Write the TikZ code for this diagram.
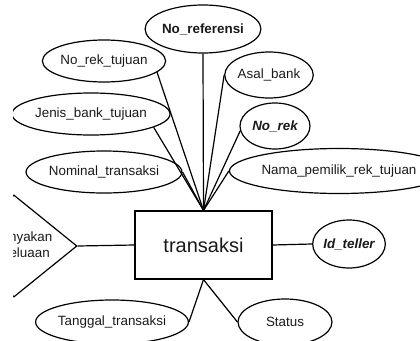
\documentclass[tikz,border=0pt]{standalone}
\usepackage{fontspec}
\setmainfont{Liberation Sans}
\usetikzlibrary{shapes.geometric}
\begin{document}
\begin{tikzpicture}[x=1pt,y=-1pt,
  attr/.style={draw=black, ellipse, inner sep=0pt, line width=1.2pt,
    font=\fontsize{13.4}{16}\selectfont, text=black!90},
  keyattr/.style={attr, font=\fontsize{13.4}{16}\selectfont\bfseries},
  keyital/.style={attr, font=\fontsize{13.4}{16}\selectfont\bfseries\itshape},
  entity/.style={draw=black, rectangle, line width=1.2pt, inner sep=0pt,
    font=\fontsize{20}{24}\selectfont, text=black!90},
  rel/.style={draw=black, diamond, line width=1.2pt, inner sep=0pt},
  conn/.style={draw=black, line width=1.2pt}]
\useasboundingbox (0,0) rectangle (420,340);
\begin{scope}
\clip (13,0) rectangle (420,340);
% entity
\node[entity, minimum width=137pt, minimum height=68pt] (tr) at (203.5,245) {transaksi};
% relationship (partly outside the view)
\node[rel, minimum width=126pt, minimum height=102pt] (dia) at (14,246) {};
\node[font=\fontsize{13.4}{16}\selectfont, text=black!90, align=center, inner sep=0pt] (diat) at (dia.center) {Menanyakan\\Pengeluaan};
% attributes
\node[keyattr, minimum width=97pt, minimum height=48pt] (nref) at (203,29) {No\_referensi};
\node[attr, minimum width=110pt, minimum height=42pt] (nrt) at (104,61) {No\_rek\_tujuan};
\node[attr, minimum width=136pt, minimum height=42pt] (jbt) at (91,114) {Jenis\_bank\_tujuan};
\node[attr, minimum width=126pt, minimum height=42pt] (nom) at (104,172) {Nominal\_transaksi};
\node[attr, minimum width=86pt, minimum height=46pt] (asal) at (269,75) {Asal\_bank};
\node[keyital, minimum width=70pt, minimum height=46pt] (nrek) at (275,126) {No\_rek};
\node[attr, minimum width=180pt, minimum height=45pt] (nama) at (339,171) {Nama\_pemilik\_rek\_tujuan};
\node[keyital, minimum width=72pt, minimum height=48pt] (idt) at (349,244) {Id\_teller};
\node[attr, minimum width=130pt, minimum height=44pt] (tgl) at (112,322) {Tanggal\_transaksi};
\node[attr, minimum width=94pt, minimum height=46pt] (st) at (285,322) {Status};
% connectors
\draw[conn] (nref.south) -- (tr.north);
\draw[conn] (nrt.-12) -- (tr.north);
\draw[conn] (jbt.-12) -- (tr.north);
\draw[conn] (nom.east) -- (tr.north);
\draw[conn] (asal.west) -- (tr.north);
\draw[conn] (nrek.188) -- (tr.north);
\draw[conn] (nama.west) -- (tr.north);
\draw[conn] (tr.east) -- (idt.west);
\draw[conn] (dia.east) -- (tr.west);
\draw[conn] (tgl.east) -- (tr.south);
\draw[conn] (st.west) -- (tr.south);
\end{scope}
\end{tikzpicture}
\end{document}
